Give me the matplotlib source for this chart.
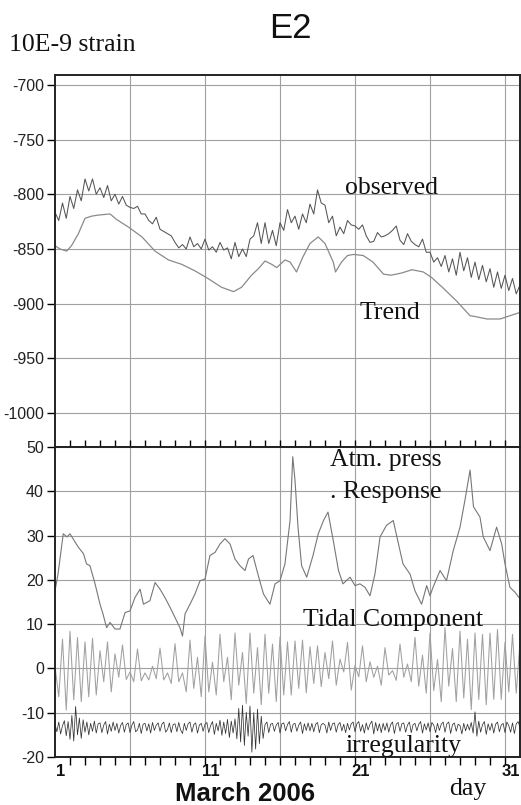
import numpy as np
import matplotlib
matplotlib.use('Agg')
import matplotlib.pyplot as plt
import matplotlib.transforms as mtrans

# ---------------- data ----------------
# sampling grids (days of March 2006)
days_q = np.linspace(1, 32, 125)      # quarter-day samples
days_e = np.linspace(1, 32, 249)      # eighth-day samples

observed = [
    -816.5, -824, -808, -822,
    -802, -813, -796, -806,
    -786, -797, -786, -800,
    -794, -803, -792, -806,
    -800, -809, -802, -810,
    -812, -813, -811, -818,
    -818, -824, -827, -821,
    -832, -834, -836, -838,
    -844, -849, -846, -850,
    -839, -848, -845, -850,
    -841, -851, -848, -853,
    -844, -851, -849, -859,
    -844, -857, -850, -857,
    -841, -838, -826, -845,
    -826, -845, -833, -847,
    -826, -833, -814, -826,
    -820, -832, -818, -826,
    -809, -818, -796, -808,
    -810, -826, -820, -838,
    -830, -836, -824, -828,
    -829, -832, -828, -838,
    -844, -843, -835, -839,
    -838, -836, -833, -829,
    -842, -846, -836, -843,
    -846, -848, -841, -853,
    -853, -862, -858, -866,
    -856, -871, -859, -874,
    -853, -870, -858, -876,
    -862, -878, -865, -880,
    -868, -885, -871, -886,
    -874, -888, -877, -891,
    -883,
]

trend_days = [1.0, 1.33, 1.78, 2.1, 2.56, 3.0, 3.44, 3.9, 4.67, 5.1,
              5.9, 6.8, 7.67, 8.56, 9.44, 10.33, 11.2, 12.1, 12.9, 13.44,
              14.1, 14.56, 15.0, 15.44, 15.78, 16.33, 16.67, 17.1, 17.5, 18.0,
              18.55, 19.0, 19.55, 19.7, 20.1, 20.5, 20.9, 21.55, 22.2, 22.9,
              23.4, 24.1, 24.8, 25.55, 26.1, 26.9, 27.8, 28.67, 29.1, 29.8,
              30.67, 31.33, 32.0]
trend_vals = [-847, -850, -852, -847, -836, -822, -820, -819, -818, -823,
              -830, -839, -852, -860, -864, -870, -877, -885, -889, -885,
              -874, -868, -861, -864, -867, -860, -862, -871, -858, -845,
              -839, -845, -862, -871, -862, -856, -855, -856, -862, -873,
              -874, -872, -869, -871, -876, -886, -898, -911, -912, -914,
              -914, -911, -908]

atm_days = [1.0, 1.2, 1.55, 1.8, 2.0, 2.2, 2.55, 2.9, 3.1, 3.33,
            3.67, 4.0, 4.2, 4.44, 4.67, 5.0, 5.33, 5.67, 6.0, 6.33,
            6.67, 6.9, 7.33, 7.67, 8.0, 8.33, 8.67, 9.0, 9.33, 9.5,
            9.67, 10.0, 10.33, 10.67, 11.0, 11.33, 11.67, 12.0, 12.33, 12.67,
            13.0, 13.33, 13.67, 13.9, 14.2, 14.55, 14.9, 15.33, 15.67, 16.0,
            16.33, 16.67, 16.85, 17.0, 17.2, 17.44, 17.78, 18.2, 18.55, 18.9,
            19.2, 19.55, 19.9, 20.2, 20.67, 21.0, 21.33, 21.67, 22.0, 22.33,
            22.67, 23.1, 23.55, 23.9, 24.2, 24.67, 25.0, 25.44, 25.78, 26.0,
            26.2, 26.67, 27.1, 27.55, 28.0, 28.33, 28.67, 28.9, 29.33, 29.55,
            30.0, 30.44, 30.78, 31.0, 31.33, 31.67, 32.0]
atm_vals = [17.5, 21.3, 30.4, 29.7, 30.4, 29.3, 27.4, 25.9, 23.6, 23.2,
            19.1, 14.5, 12.3, 9.2, 10.4, 8.9, 8.9, 12.6, 13.0, 16.0,
            17.9, 14.5, 15.3, 19.4, 17.9, 16.0, 13.8, 11.5, 9.2, 7.3,
            12.3, 14.5, 16.8, 19.8, 20.2, 25.5, 26.2, 28.1, 29.3, 28.1,
            24.7, 23.2, 22.1, 24.7, 25.5, 21.0, 16.8, 14.5, 19.1, 19.8,
            23.6, 33.4, 47.8, 42.5, 31.9, 23.2, 20.6, 25.5, 30.4, 33.4,
            35.3, 28.9, 22.1, 19.1, 20.6, 18.7, 19.1, 18.3, 16.4, 21.3,
            29.7, 32.3, 33.4, 28.1, 23.6, 21.3, 17.5, 14.5, 18.7, 16.4,
            18.3, 22.1, 19.8, 26.6, 31.9, 38.0, 44.8, 36.5, 34.2, 29.7,
            26.6, 31.9, 28.1, 23.6, 18.3, 17.2, 15.7]

tidal = [
    0.5, -6.4, 6.6, -9.4,
    8.4, -7.1, 7.0, -7.5,
    6.0, -6.4, 6.8, -6.0,
    4.0, -3.0, 6.0, -5.3,
    3.3, -2.0, 5.3, -2.5,
    -0.8, -3.0, 4.4, -2.8,
    -1.0, -2.6, 0.5, -2.3,
    4.6, -2.6, -1.0, -3.4,
    5.6, -3.0, -1.0, -5.3,
    6.4, -4.5, 2.5, -6.4,
    7.3, -5.3, 1.4, -6.0,
    7.7, -3.0, 2.5, -7.1,
    8.0, -3.8, 3.6, -7.9,
    8.0, -5.6, 4.7, -8.2,
    7.7, -5.6, 5.5, -7.5,
    7.1, -6.0, 6.0, -6.0,
    6.2, -4.5, 6.4, -5.5,
    4.9, -3.4, 5.1, -4.1,
    3.6, -2.3, 6.2, -3.8,
    2.1, -0.8, 5.9, -4.9,
    0.7, -1.9, 5.1, -3.0,
    1.5, -2.0, 0.5, -3.8,
    4.7, -1.5, -0.5, -2.7,
    5.5, -2.0, 1.0, -3.0,
    7.0, -4.0, 3.0, -5.6,
    8.0, -5.0, 2.0, -7.5,
    9.2, -4.0, 4.5, -7.5,
    8.4, -6.7, 6.6, -9.3,
    8.0, -7.0, 7.7, -8.2,
    8.0, -7.0, 8.8, -7.0,
    5.9, -5.3, 7.7, -5.6,
    6.0,
]

irregularity = [
    -12.6, -14.3, -12.1, -14.8, -12.9, -11.8, -15.2, -12.0,
    -16.0, -10.6, -16.4, -8.6, -15.0, -11.2, -15.8, -11.6,
    -14.4, -12.1, -15.0, -12.4, -14.2, -11.9, -14.6, -12.5,
    -12.3, -14.5, -12.8, -12.0, -14.8, -12.6, -14.2, -12.1,
    -14.0, -12.4, -14.6, -12.9, -12.2, -14.4, -12.7, -12.3,
    -14.5, -12.8, -12.0, -14.3, -13.9, -12.4, -14.7, -12.6,
    -12.4, -14.1, -12.5, -14.6, -12.2, -14.0, -12.8, -12.3,
    -14.2, -12.6, -12.1, -14.4, -13.8, -12.3, -14.5, -12.7,
    -12.5, -14.3, -12.2, -13.9, -14.7, -12.4, -14.0, -12.5,
    -12.1, -14.4, -12.7, -12.3, -14.6, -12.8, -12.4, -14.2,
    -12.6, -12.2, -14.5, -12.9, -12.0, -14.9, -12.4, -14.1,
    -11.7, -15.1, -12.1, -14.7, -11.5, -15.6, -11.9, -14.6,
    -11.4, -15.9, -9.0, -16.6, -8.3, -17.4, -9.9, -15.3,
    -8.5, -18.9, -10.0, -18.2, -9.2, -17.0, -10.8, -15.8,
    -12.7, -12.1, -14.5, -12.6, -12.4, -14.2, -12.8, -12.2,
    -14.6, -12.5, -12.3, -14.1, -12.7, -12.0, -14.4, -12.6,
    -12.4, -14.2, -12.8, -12.1, -14.7, -12.5, -14.0, -12.3,
    -14.1, -12.4, -14.3, -12.6, -12.2, -14.5, -12.7, -12.4,
    -12.8, -14.6, -12.1, -14.0, -12.5, -12.3, -14.4, -12.7,
    -12.2, -14.1, -12.6, -14.5, -12.4, -13.9, -12.5, -12.1,
    -14.3, -12.5, -12.0, -14.2, -12.7, -14.6, -12.3, -13.9,
    -12.6, -11.9, -14.8, -12.2, -14.1, -12.5, -14.5, -12.4,
    -14.0, -12.3, -14.4, -12.7, -12.1, -14.7, -12.6, -12.2,
    -14.2, -12.5, -12.3, -14.4, -12.8, -12.1, -14.5, -12.7,
    -12.4, -14.1, -12.6, -12.0, -14.6, -12.5, -13.9, -12.3,
    -14.3, -12.2, -12.8, -14.5, -12.4, -14.0, -12.6, -12.1,
    -14.4, -12.5, -12.1, -14.7, -12.7, -12.3, -14.2, -12.6,
    -12.9, -14.8, -12.4, -14.1, -12.6, -13.9, -12.2, -14.6,
    -9.8, -15.3, -11.9, -14.4, -12.7, -12.0, -14.9, -12.5,
    -14.0, -12.4, -14.6, -12.6, -12.1, -14.3, -12.8, -12.4,
    -14.5, -12.1, -12.9, -14.4, -12.3, -14.7, -12.5, -12.0,
    -13.3,
]

top_yticks = [-1000, -950, -900, -850, -800, -750, -700]
bot_yticks = [-20, -10, 0, 10, 20, 30, 40, 50]
day_labels = ['1', '11', '21', '31']
day_label_pos = [1, 11, 21, 31]
grid_days = [6, 11, 16, 21, 26, 31]
all_days = list(range(2, 32))

# ---------------- figure ----------------
W, H = 521, 805
fig = plt.figure(figsize=(W / 100, H / 100), dpi=100)


def fx(px):
    return px / W


def fy(py):
    return 1 - py / H


ax1 = fig.add_axes([fx(55), fy(447), fx(520) - fx(55), fy(75) - fy(447)])
ax2 = fig.add_axes([fx(55), fy(757), fx(520) - fx(55), fy(447) - fy(757)])

sans = 'Liberation Sans'
serif = 'Liberation Serif'
gridc = '#a0a0a0'

for ax in (ax1, ax2):
    ax.set_xlim(1, 32)
    ax.set_axisbelow(True)
    for s in ax.spines.values():
        s.set_linewidth(1.4)
        s.set_color('#222222')
    ax.set_xticks(grid_days)
    ax.set_xticks(all_days, minor=True)
    ax.grid(True, which='major', color=gridc, linewidth=0.8)
    ax.tick_params(axis='y', direction='out', length=6, width=1.0,
                   labelsize=11.5, labelcolor='#222222', pad=2)

ax1.set_ylim(-1031, -691)
ax1.set_yticks(top_yticks)
ax1.set_yticklabels([str(v) for v in top_yticks], fontfamily=sans)
ax1.tick_params(axis='x', which='both', direction='in', length=5, width=1.0,
                labelbottom=False, bottom=True, top=False)

ax2.set_ylim(-20, 50)
ax2.set_yticks(bot_yticks)
ax2.set_yticklabels([str(v) for v in bot_yticks], fontfamily=sans)
ax2.tick_params(axis='x', which='both', direction='out', length=6, width=1.0,
                top=False, labelbottom=False)

# curves
ax1.plot(days_q, observed, color='#555555', lw=0.75, solid_joinstyle='round')
ax1.plot(trend_days, trend_vals, color='#8a8a8a', lw=0.9)
ax2.plot(atm_days, atm_vals, color='#777777', lw=0.8)
ax2.plot(days_q, tidal, color='#a0a0a0', lw=0.75, solid_joinstyle='round')
ax2.plot(days_e, irregularity, color='#333333', lw=0.55)

# day labels (centred on the day)
off = mtrans.ScaledTranslation(6.0 / 100, 0, fig.dpi_scale_trans)
tr = mtrans.blended_transform_factory(ax2.transData, fig.transFigure) + off
for p, lab in zip(day_label_pos, day_labels):
    ax2.text(p, fy(771), lab, transform=tr, ha='center', va='center',
             fontsize=12, fontweight='bold', fontfamily=sans, color='#111111')

# texts
fig.text(fx(290), fy(28), 'E2', ha='center', va='center', fontsize=25,
         fontfamily=sans, color='#111111')
fig.text(fx(9), fy(45), '10E-9 strain', ha='left', va='center', fontsize=18.5,
         fontfamily=serif, color='#111111')
fig.text(fx(392), fy(188), 'observed', ha='center', va='center', fontsize=18.5,
         fontfamily=serif, color='#111111')
fig.text(fx(390), fy(313), 'Trend', ha='center', va='center', fontsize=18.5,
         fontfamily=serif, color='#111111')
fig.text(fx(386), fy(460), 'Atm. press', ha='center', va='center', fontsize=18.5,
         fontfamily=serif, color='#111111')
fig.text(fx(386), fy(492), '. Response', ha='center', va='center', fontsize=18.5,
         fontfamily=serif, color='#111111')
fig.text(fx(393), fy(620), 'Tidal Component', ha='center', va='center',
         fontsize=18.5, fontfamily=serif, color='#111111')
fig.text(fx(403), fy(746), 'irregularity', ha='center', va='center',
         fontsize=18.5, fontfamily=serif, color='#111111')
fig.text(fx(468), fy(789), 'day', ha='center', va='center', fontsize=18.5,
         fontfamily=serif, color='#111111')
fig.text(fx(245), fy(794), 'March 2006', ha='center', va='center', fontsize=18.5,
         fontweight='bold', fontfamily=sans, color='#111111')

fig.savefig('out.png', dpi=100)
